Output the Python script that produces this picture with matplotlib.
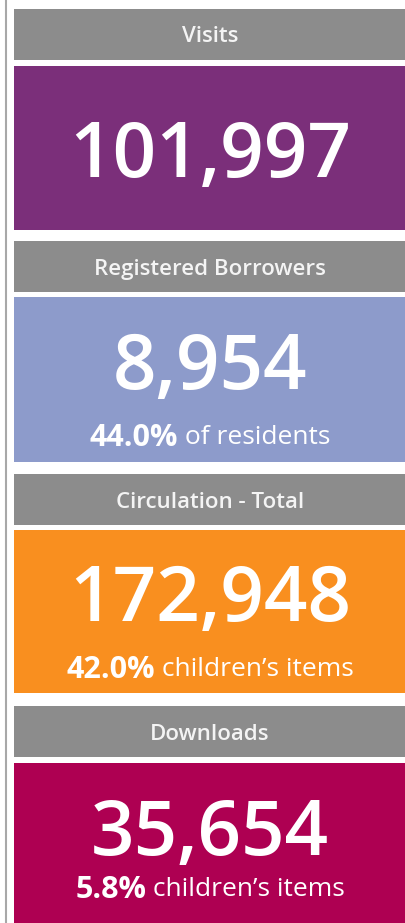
import matplotlib
matplotlib.use("Agg")
import matplotlib.pyplot as plt
from matplotlib.patches import Rectangle

# ---- data ----
titles = ["Visits", "Registered Borrowers", "Circulation - Total", "Downloads"]
values = [101997, 8954, 172948, 35654]
sub_pcts = [None, 44.0, 42.0, 5.8]
sub_labels = [None, "of residents", "children\u2019s items", "children\u2019s items"]
box_colors = ["#7B2F7A", "#8D9BCB", "#F98F1F", "#AE0052"]

# ---- layout (pixels) ----
W, H = 406, 923
header_top = [9, 241, 474, 706]
header_h = 51
box_top = [66, 297, 530, 763]
box_bottom = [230, 462, 693, 923]
num_y = [148, 360, 592, 826]
sub_y = [None, 434, 666, 886]
left = 14
FONT = ["Open Sans", "DejaVu Sans"]

fig = plt.figure(figsize=(W / 100, H / 100), dpi=100)
ax = fig.add_axes([0, 0, 1, 1])
ax.set_xlim(0, W)
ax.set_ylim(H, 0)
ax.axis("off")
fig.patch.set_facecolor("white")

# left vertical rule
ax.plot([6.5, 6.5], [0, H], color="#A8A8A8", lw=1.5, solid_capstyle="butt")

cx = (left + W) / 2
for i, t in enumerate(titles):
    ax.add_patch(Rectangle((left, header_top[i]), W - left, header_h,
                           facecolor="#8C8C8C", edgecolor="none"))
    ax.text(cx, header_top[i] + header_h / 2, t, ha="center", va="center_baseline",
            color="#F4F4F4", fontsize=16, family=FONT, fontweight="semibold")
    ax.add_patch(Rectangle((left, box_top[i]), W - left, box_bottom[i] - box_top[i],
                           facecolor=box_colors[i], edgecolor="none"))
    ax.text(cx, num_y[i], f"{values[i]:,}", ha="center", va="center_baseline",
            color="white", fontsize=55, family=FONT, fontweight="semibold")

fig.canvas.draw()
r = fig.canvas.get_renderer()
for i in range(len(titles)):
    if sub_pcts[i] is None:
        continue
    tb = ax.text(0, sub_y[i], f"{sub_pcts[i]:.1f}%", ha="left", va="center_baseline",
                 color="white", fontsize=22, family=FONT, fontweight="bold")
    tr = ax.text(0, sub_y[i], " " + sub_labels[i], ha="left", va="center_baseline",
                 color="white", fontsize=19, family=FONT)
    wb = tb.get_window_extent(r).width
    wr = tr.get_window_extent(r).width
    x0 = cx - (wb + wr) / 2
    tb.set_x(x0)
    tr.set_x(x0 + wb)

fig.savefig("out.png", dpi=100, facecolor="white")
